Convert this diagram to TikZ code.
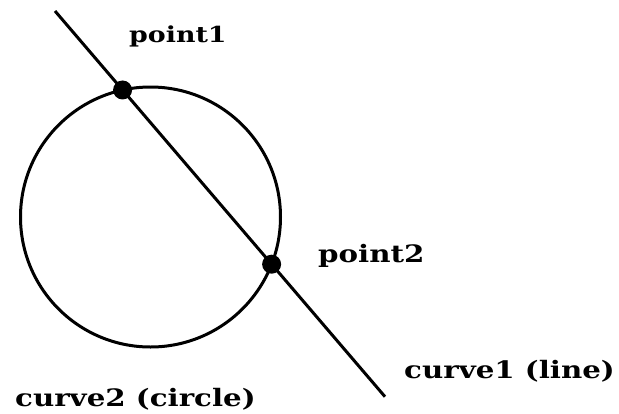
\documentclass[tikz,border=0pt]{standalone}
\usepackage{fontspec}
\setmainfont{DejaVu Serif}
\newfontfamily\lblfont[FakeStretch=1.22]{DejaVu Serif}
\usetikzlibrary{intersections}
\tikzset{
  curvestyle/.style={line width=3pt, black},
  ptdot/.style={circle, fill=black, inner sep=0pt, minimum size=19pt},
  lbl/.style={anchor=base west, inner sep=0pt, font=\lblfont\bfseries\fontsize{24}{28}\selectfont},
  lblsmall/.style={lbl, font=\lblfont\bfseries\fontsize{22}{26}\selectfont}
}
\begin{document}
\begin{tikzpicture}[x=1pt,y=-1pt]
\useasboundingbox (0,0) rectangle (619,413);
\coordinate (lstart) at (55,11);
\coordinate (lend) at (385,396.7);
\coordinate (ccen) at (150.5,217);
\draw[curvestyle, name path=circ] (ccen) circle[radius=130];
\draw[curvestyle, name path=ln] (lstart) -- (lend);
\path[name intersections={of=circ and ln, by={i1,i2}}];
\node[ptdot] (p1) at (i1) {};
\node[ptdot] (p2) at (i2) {};
\node[lblsmall] (t1) at (129,42) {point1};
\node[lbl] (t2) at (318,262) {point2};
\node[lbl] (t3) at (404,378) {curve1 (line)};
\node[lbl] (t4) at (15,406) {curve2 (circle)};
\end{tikzpicture}
\end{document}
